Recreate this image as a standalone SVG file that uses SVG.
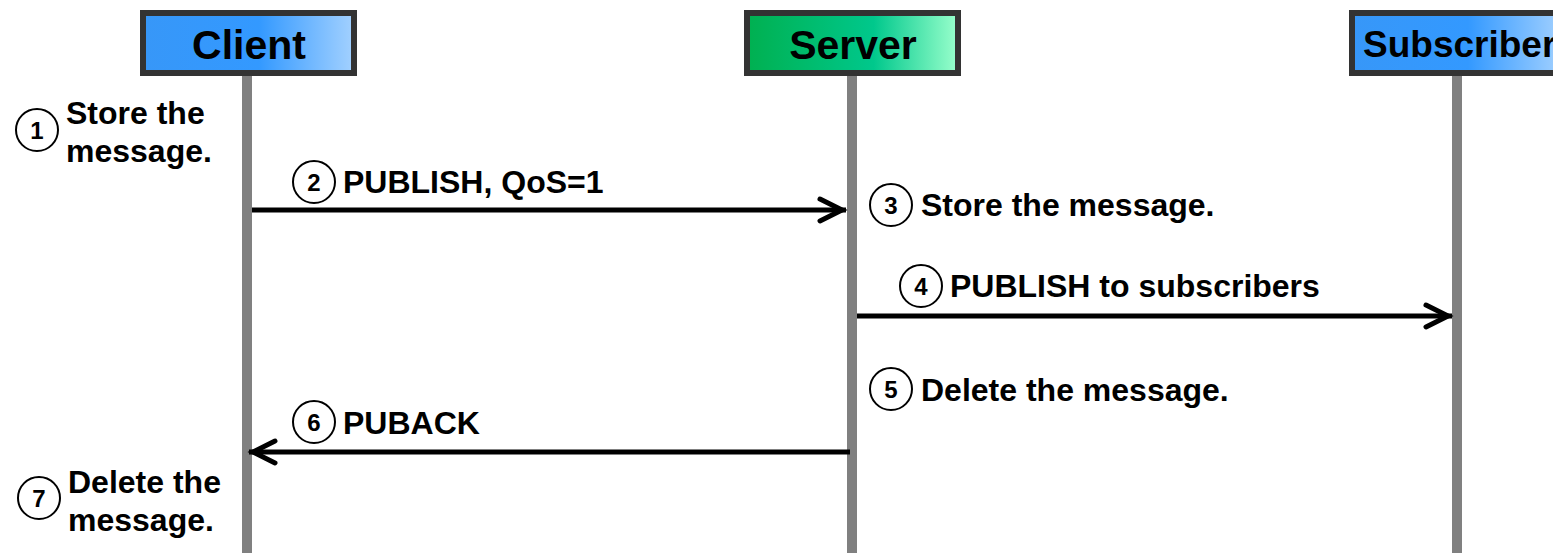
<svg xmlns="http://www.w3.org/2000/svg" width="1553" height="553" viewBox="0 0 1553 553">
<defs>
<linearGradient id="gBlue" x1="0" y1="0" x2="1" y2="0">
<stop offset="0" stop-color="#3797f8"/>
<stop offset="0.55" stop-color="#3399ff"/>
<stop offset="1" stop-color="#a3d1ff"/>
</linearGradient>
<linearGradient id="gGreen" x1="0" y1="0" x2="1" y2="0">
<stop offset="0" stop-color="#00b050"/>
<stop offset="0.6" stop-color="#00c88c"/>
<stop offset="1" stop-color="#99ffcc"/>
</linearGradient>
<marker id="arr" markerUnits="userSpaceOnUse" markerWidth="40" markerHeight="40" viewBox="-30 -20 40 40" refX="0" refY="0" orient="auto" overflow="visible">
<path d="M-26,-11 L-4,0 L-26,11" fill="none" stroke="#000" stroke-width="5" stroke-linecap="round"/>
</marker>
</defs>
<style>
.box{stroke:#333;stroke-width:6}
.life{stroke:#808080;stroke-width:10}
.hdr{font-family:"Liberation Sans",Arial,sans-serif;font-weight:bold;font-size:41px;fill:#000}
.hdr.small{font-size:37px}
.lbl{font-family:"Liberation Sans",Arial,sans-serif;font-weight:bold;font-size:32px;fill:#000}
.num{font-family:"Liberation Sans",Arial,sans-serif;font-weight:bold;font-size:24px;fill:#000;text-anchor:middle}
.circ{fill:#fff;stroke:#000;stroke-width:2}
.msg{stroke:#000;stroke-width:5;fill:none;marker-end:url(#arr)}
</style>
<rect width="1553" height="553" fill="#fff"/>
<g id="client">
<line class="life" x1="247" y1="76" x2="247" y2="553"/>
<rect class="box" x="143" y="13" width="211" height="60" fill="url(#gBlue)"/>
<text class="hdr" x="249" y="59" text-anchor="middle">Client</text>
</g>
<g id="server">
<line class="life" x1="852" y1="76" x2="852" y2="553"/>
<rect class="box" x="747" y="13" width="211" height="60" fill="url(#gGreen)"/>
<text class="hdr" x="853" y="59" text-anchor="middle">Server</text>
</g>
<g id="subscriber">
<line class="life" x1="1457" y1="76" x2="1457" y2="553"/>
<rect class="box" x="1352" y="13" width="211" height="60" fill="url(#gBlue)"/>
<text class="hdr small" x="1363" y="57">Subscriber</text>
</g>
<g id="connectors">
<line class="msg" x1="252" y1="210" x2="846" y2="210"/>
<line class="msg" x1="857" y1="316" x2="1452" y2="316"/>
<line class="msg" x1="850" y1="452" x2="249" y2="452"/>
</g>
<g id="step1">
<circle class="circ" cx="37" cy="130" r="21"/>
<text class="num" x="37" y="139">1</text>
<text class="lbl" x="66" y="124">Store the</text>
<text class="lbl" x="66" y="162">message.</text>
</g>
<g id="step2">
<circle class="circ" cx="314" cy="182" r="21"/>
<text class="num" x="314" y="191">2</text>
<text class="lbl" x="343" y="193">PUBLISH, QoS=1</text>
</g>
<g id="step3">
<circle class="circ" cx="891" cy="205" r="21"/>
<text class="num" x="891" y="214">3</text>
<text class="lbl" x="921" y="216">Store the message.</text>
</g>
<g id="step4">
<circle class="circ" cx="921" cy="286" r="21"/>
<text class="num" x="921" y="295">4</text>
<text class="lbl" x="950" y="297">PUBLISH to subscribers</text>
</g>
<g id="step5">
<circle class="circ" cx="891" cy="389" r="21"/>
<text class="num" x="891" y="398">5</text>
<text class="lbl" x="921" y="401">Delete the message.</text>
</g>
<g id="step6">
<circle class="circ" cx="314" cy="422" r="21"/>
<text class="num" x="314" y="431">6</text>
<text class="lbl" x="343" y="434">PUBACK</text>
</g>
<g id="step7">
<circle class="circ" cx="39" cy="498" r="21"/>
<text class="num" x="39" y="507">7</text>
<text class="lbl" x="68" y="493">Delete the</text>
<text class="lbl" x="68" y="531">message.</text>
</g>
</svg>
